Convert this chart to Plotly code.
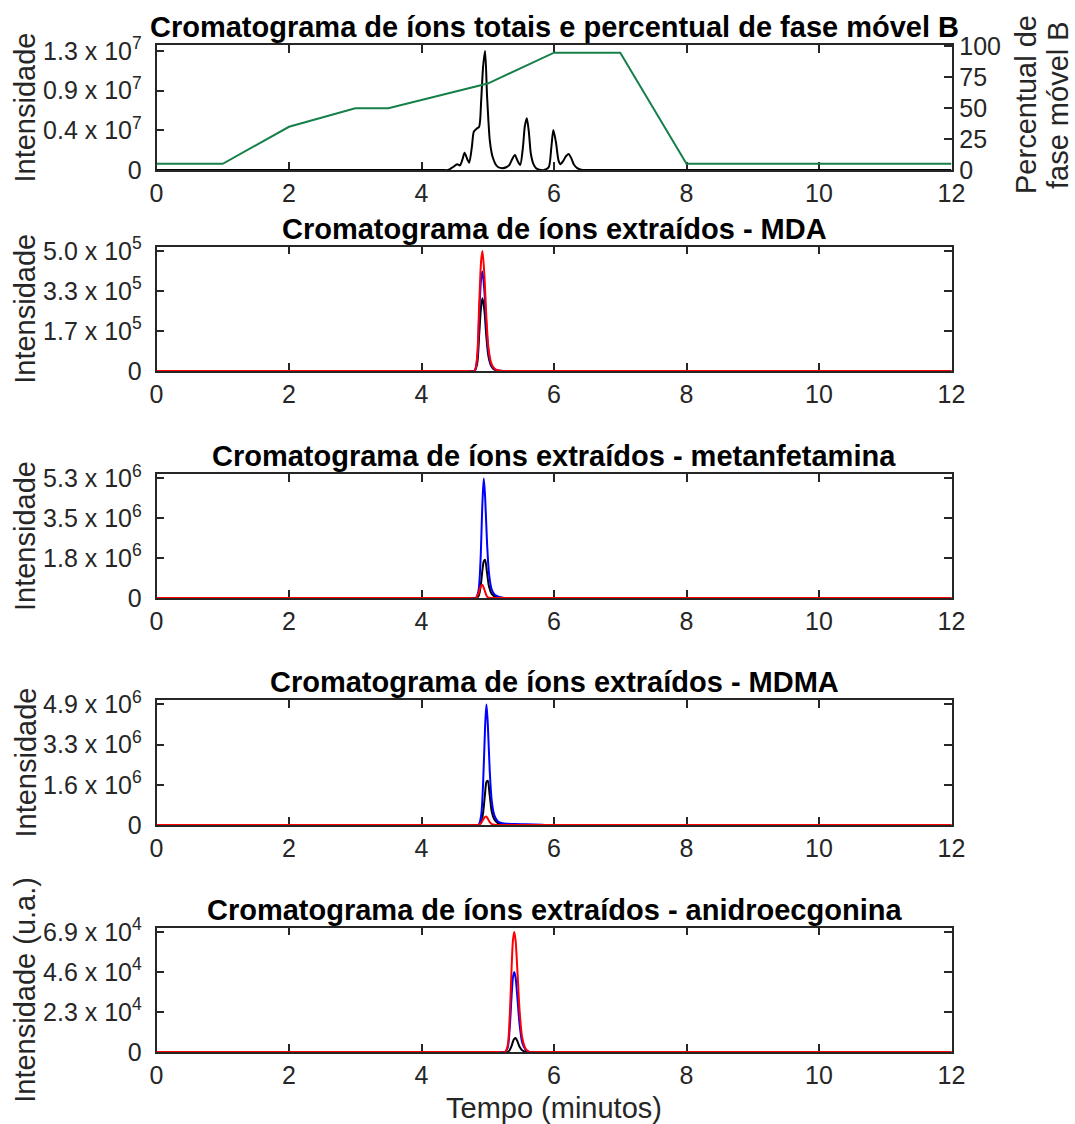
import plotly.graph_objects as go

W, H = 1075, 1124
FONT = "Liberation Sans, Arial, sans-serif"
AX_COLOR = "#262626"

# ---------------- Data ----------------
# Total ion chromatogram (time in minutes, intensity in counts)
tic_t = [0, 4.30, 4.40, 4.47, 4.54, 4.58, 4.62, 4.65, 4.69, 4.72, 4.76, 4.79, 4.83, 4.87,
         4.90, 4.93, 4.96, 4.99, 5.03, 5.06, 5.08, 5.12, 5.16, 5.22, 5.28, 5.33,
         5.37, 5.41, 5.45, 5.49, 5.53, 5.56, 5.59, 5.62, 5.65, 5.69, 5.73, 5.78,
         5.85, 5.92, 5.96, 5.99, 6.03, 6.07, 6.10, 6.14, 6.18, 6.22, 6.26, 6.30,
         6.35, 6.43, 6.55, 12]
tic_i = [0, 0, 0, 0.30e6, 0.64e6, 0.50e6, 1.20e6, 1.89e6, 1.20e6, 0.80e6, 2.50e6,
         4.19e6, 4.50e6, 4.73e6, 7.50e6, 11.3e6, 13.0e6, 8.00e6, 3.28e6, 1.80e6,
         1.28e6, 0.60e6, 0.30e6, 0.20e6, 0.30e6, 0.60e6, 1.20e6, 1.64e6, 1.00e6,
         0.54e6, 2.40e6, 4.80e6, 5.65e6, 4.20e6, 1.80e6, 0.64e6, 0.20e6, 0.02e6,
         0, 0.30e6, 2.50e6, 4.37e6, 3.00e6, 1.00e6, 0.64e6, 1.00e6, 1.50e6,
         1.75e6, 1.30e6, 0.60e6, 0.20e6, 0, 0, 0]

# Mobile phase B gradient (%)
grad_t = [0, 1, 2, 3, 3.5, 5, 6, 7, 8, 12]
grad_b = [5, 5, 35, 50, 50, 70, 95, 95, 5, 5]

# Extracted ion chromatograms - MDA
mda_t = [0, 4.70, 4.80, 4.84, 4.87, 4.90, 4.92, 4.95, 4.98, 5.01, 5.05, 5.10, 5.16, 5.25, 5.35, 12]
mda_black = [0, 0, 0, 0.30e5, 1.50e5, 2.70e5, 3.03e5, 2.50e5, 1.40e5, 0.62e5, 0.22e5, 0.06e5, 0.01e5, 0, 0, 0]
mda_blue = [0, 0, 0, 0.50e5, 2.30e5, 3.85e5, 4.14e5, 3.30e5, 1.85e5, 0.82e5, 0.29e5, 0.08e5, 0.02e5, 0, 0, 0]
mda_red = [0, 0, 0, 0.60e5, 2.70e5, 4.60e5, 5.00e5, 3.95e5, 2.20e5, 0.98e5, 0.35e5, 0.10e5, 0.02e5, 0, 0, 0]

# Extracted ion chromatograms - metanfetamina
met_t = [0, 4.72, 4.82, 4.86, 4.89, 4.92, 4.94, 4.96, 4.99, 5.02, 5.06, 5.11, 5.18, 5.25, 5.35, 12]
met_black = [0, 0, 0, 0.08e6, 0.45e6, 1.25e6, 1.62e6, 1.70e6, 1.10e6, 0.50e6, 0.18e6, 0.06e6, 0.02e6, 0, 0, 0]
met_blue = [0, 0, 0, 0.32e6, 1.60e6, 4.24e6, 5.30e6, 4.50e6, 2.40e6, 1.06e6, 0.37e6, 0.13e6, 0.04e6, 0, 0, 0]
met_red = [0, 0, 0, 0.20e6, 0.50e6, 0.58e6, 0.45e6, 0.28e6, 0.06e6, 0.01e6, 0, 0, 0, 0, 0, 0]

# Extracted ion chromatograms - MDMA
mdma_t = [0, 4.76, 4.86, 4.90, 4.93, 4.96, 4.98, 5.00, 5.03, 5.06, 5.10, 5.15, 5.22, 5.40, 5.70, 5.95, 6.10, 12]
mdma_black = [0, 0, 0, 0.10e6, 0.50e6, 1.30e6, 1.75e6, 1.80e6, 1.20e6, 0.55e6, 0.22e6, 0.08e6, 0.03e6, 0.01e6, 0, 0, 0, 0]
mdma_blue = [0, 0, 0, 0.39e6, 1.70e6, 4.00e6, 4.90e6, 4.15e6, 2.20e6, 0.98e6, 0.39e6, 0.15e6, 0.07e6, 0.04e6, 0.025e6, 0, 0, 0]
mdma_red = [0, 0, 0, 0.08e6, 0.22e6, 0.33e6, 0.34e6, 0.26e6, 0.12e6, 0.04e6, 0.01e6, 0, 0, 0, 0, 0, 0, 0]

# Extracted ion chromatograms - anidroecgonina
ani_t = [0, 5.16, 5.26, 5.30, 5.33, 5.36, 5.38, 5.40, 5.42, 5.45, 5.48, 5.52, 5.57, 5.63, 5.73, 12]
ani_black = [0, 0, 0, 0, 0.10e4, 0.35e4, 0.60e4, 0.75e4, 0.80e4, 0.60e4, 0.30e4, 0.10e4, 0.02e4, 0, 0, 0]
ani_blue = [0, 0, 0, 0.23e4, 1.29e4, 3.22e4, 4.28e4, 4.60e4, 4.28e4, 2.99e4, 1.61e4, 0.55e4, 0.14e4, 0, 0, 0]
ani_red = [0, 0, 0, 0.35e4, 1.93e4, 4.83e4, 6.42e4, 6.90e4, 6.42e4, 4.49e4, 2.42e4, 0.83e4, 0.20e4, 0, 0, 0]

# Tick values and labels
x_ticks = [0, 2, 4, 6, 8, 10, 12]
x_labels = ["0", "2", "4", "6", "8", "10", "12"]
grad_ticks = [0, 25, 50, 75, 100]
tic_ticks = [0, 0.4333e7, 0.8667e7, 1.3e7]
tic_labels = ["0", "0.4 x 10<sup>7</sup>", "0.9 x 10<sup>7</sup>", "1.3 x 10<sup>7</sup>"]
mda_ticks = [0, 1.667e5, 3.333e5, 5.0e5]
mda_labels = ["0", "1.7 x 10<sup>5</sup>", "3.3 x 10<sup>5</sup>", "5.0 x 10<sup>5</sup>"]
met_ticks = [0, 1.767e6, 3.533e6, 5.3e6]
met_labels = ["0", "1.8 x 10<sup>6</sup>", "3.5 x 10<sup>6</sup>", "5.3 x 10<sup>6</sup>"]
mdma_ticks = [0, 1.633e6, 3.267e6, 4.9e6]
mdma_labels = ["0", "1.6 x 10<sup>6</sup>", "3.3 x 10<sup>6</sup>", "4.9 x 10<sup>6</sup>"]
ani_ticks = [0, 2.3e4, 4.6e4, 6.9e4]
ani_labels = ["0", "2.3 x 10<sup>4</sup>", "4.6 x 10<sup>4</sup>", "6.9 x 10<sup>4</sup>"]

titles = [
    "Cromatograma de íons totais e percentual de fase móvel B",
    "Cromatograma de íons extraídos - MDA",
    "Cromatograma de íons extraídos - metanfetamina",
    "Cromatograma de íons extraídos - MDMA",
    "Cromatograma de íons extraídos - anidroecgonina",
]
ylabels = ["Intensidade", "Intensidade", "Intensidade", "Intensidade", "Intensidade (u.a.)"]

# ---------------- Layout geometry (pixels) ----------------
X0, X1 = 156.5, 951.5
panels = [(45, 170), (246.5, 371), (474, 598), (700, 825), (927.5, 1052)]

def px_x(p):
    return p / W

def px_y(p):
    return 1 - p / H

fig = go.Figure()

LW = 2
BLACK, BLUE, RED, GREEN = "#000000", "#0000ff", "#ff0000", "#16804a"

# panel 1: total ion chromatogram + gradient on the right axis
fig.add_trace(go.Scatter(x=tic_t, y=tic_i, mode="lines",
                         line=dict(color=BLACK, width=LW, shape="spline", smoothing=0.7),
                         xaxis="x", yaxis="y", hoverinfo="skip"))
fig.add_trace(go.Scatter(x=grad_t, y=grad_b, mode="lines", line=dict(color=GREEN, width=LW),
                         xaxis="x", yaxis="y6", hoverinfo="skip"))

eics = [
    (mda_t, mda_black, mda_blue, mda_red),
    (met_t, met_black, met_blue, met_red),
    (mdma_t, mdma_black, mdma_blue, mdma_red),
    (ani_t, ani_black, ani_blue, ani_red),
]
for k, (t, kb, bl, rd) in enumerate(eics, start=2):
    for ys, col in ((kb, BLACK), (bl, BLUE), (rd, RED)):
        fig.add_trace(go.Scatter(x=t, y=ys, mode="lines",
                                 line=dict(color=col, width=LW, shape="spline", smoothing=0.8),
                                 xaxis=f"x{k}", yaxis=f"y{k}", hoverinfo="skip"))

tick_sets = [(tic_ticks, tic_labels, 1.05), (mda_ticks, mda_labels, 1.037),
             (met_ticks, met_labels, 1.037), (mdma_ticks, mdma_labels, 1.037),
             (ani_ticks, ani_labels, 1.037)]

tickfont = dict(family=FONT, size=25, color=AX_COLOR)
layout = dict(
    width=W, height=H, margin=dict(l=0, r=0, t=0, b=0, autoexpand=False),
    paper_bgcolor="white", plot_bgcolor="white", showlegend=False,
    font=dict(family=FONT, color=AX_COLOR),
)

for i, ((top, bot), (tv, tt, f)) in enumerate(zip(panels, tick_sets), start=1):
    sfx = "" if i == 1 else str(i)
    layout[f"xaxis{sfx}"] = dict(
        domain=[px_x(X0), px_x(X1)], range=[0, 12], anchor=f"y{sfx}", automargin=False,
        tickvals=x_ticks, ticktext=x_labels, ticks="inside", ticklen=8, tickwidth=1.5,
        tickcolor=AX_COLOR, showline=True, linecolor=AX_COLOR, linewidth=1.5,
        mirror="ticks", showgrid=False, zeroline=False, tickfont=tickfont,
        ticklabelstandoff=0, layer="below traces",
    )
    layout[f"yaxis{sfx}"] = dict(
        domain=[px_y(bot), px_y(top)], range=[0, tv[-1] * f], anchor=f"x{sfx}", automargin=False,
        tickvals=tv, ticktext=tt, ticks="inside", ticklen=8, tickwidth=1.5,
        tickcolor=AX_COLOR, showline=True, linecolor=AX_COLOR, linewidth=1.5,
        mirror=False if i == 1 else "ticks", showgrid=False, zeroline=False,
        tickfont=tickfont, ticklabelstandoff=8, layer="below traces",
    )

layout["yaxis6"] = dict(
    overlaying="y", side="right", anchor="x", range=[0, 101.2], automargin=False,
    tickvals=grad_ticks, ticks="inside", ticklen=8, tickwidth=1.5, tickcolor=AX_COLOR,
    showline=True, linecolor=AX_COLOR, linewidth=1.5, showgrid=False, zeroline=False,
    tickfont=tickfont, ticklabelstandoff=1, layer="below traces",
)

annotations = []
title_font = dict(family=FONT, size=29, color="#000000")
label_font = dict(family=FONT, size=29, color=AX_COLOR)
for (top, bot), title, ylab in zip(panels, titles, ylabels):
    annotations.append(dict(
        text=f"<b>{title}</b>", x=px_x((X0 + X1) / 2), y=px_y(top - 1), xref="paper", yref="paper",
        xanchor="center", yanchor="bottom", showarrow=False, font=title_font, borderpad=0,
    ))
    annotations.append(dict(
        text=ylab, x=px_x(25), y=px_y((top + bot) / 2), xref="paper", yref="paper",
        xanchor="center", yanchor="middle", textangle=-90, showarrow=False, font=label_font,
    ))

# right-axis label, two lines
for txt, xc in (("Percentual de", 1026), ("fase móvel B", 1058)):
    annotations.append(dict(
        text=txt, x=px_x(xc), y=px_y(105), xref="paper", yref="paper",
        xanchor="center", yanchor="middle", textangle=-90, showarrow=False, font=label_font,
    ))
annotations.append(dict(
    text="Tempo (minutos)", x=px_x((X0 + X1) / 2), y=px_y(1108), xref="paper", yref="paper",
    xanchor="center", yanchor="middle", showarrow=False, font=label_font,
))
layout["annotations"] = annotations

fig.update_layout(**layout)
fig.write_html("out.html")
